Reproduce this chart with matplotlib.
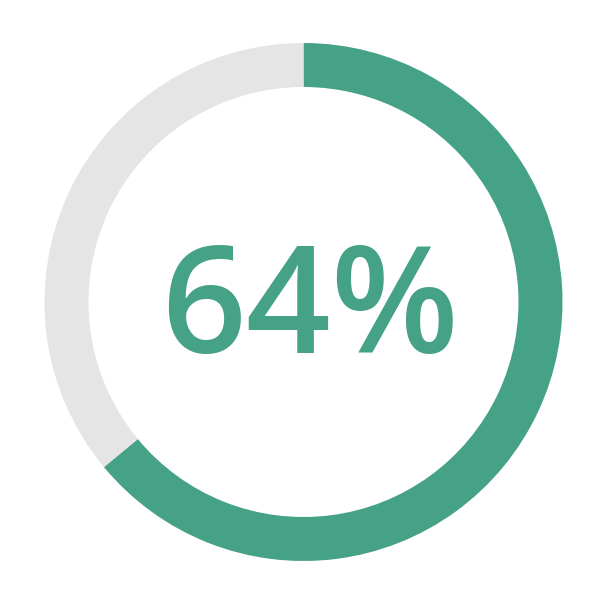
import matplotlib.pyplot as plt

# progress ring data
value = 64
parts = [value, 100 - value]
colors = ['#46a287', '#e5e5e5']
label = f'{value}%'

fig = plt.figure(figsize=(6, 6), dpi=100)
ax = fig.add_axes([0, 0, 1, 1])

ax.pie(parts, colors=colors, startangle=90, counterclock=False,
       center=(303.5, 298), radius=259, frame=True,
       wedgeprops=dict(width=44, linewidth=0))
ax.set_xlim(0, 600)
ax.set_ylim(0, 600)
ax.axis('off')

ax.text(310, 285, label, ha='center', va='center', color='#46a287',
        fontsize=107, fontweight='semibold', family=['Open Sans', 'DejaVu Sans'])

fig.savefig('out.png', dpi=100)
